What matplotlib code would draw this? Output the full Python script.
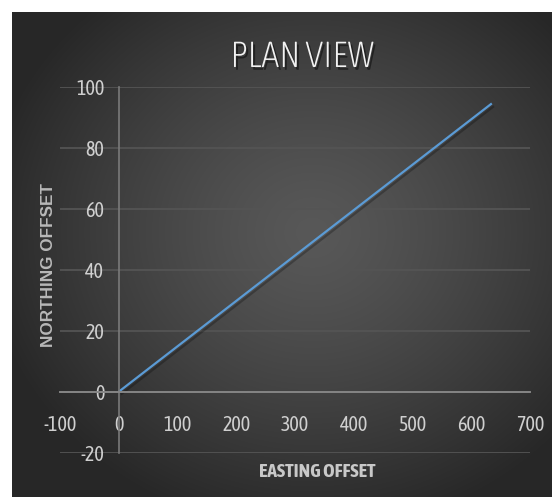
import numpy as np
import matplotlib.pyplot as plt
from matplotlib import patheffects as pe

plt.rcParams['axes.unicode_minus'] = False

# survey line, easting vs northing offset
easting = [0, 635]
northing = [0, 94.7]
x_ticks = [-100, 0, 100, 200, 300, 400, 500, 600, 700]
y_ticks = [-20, 0, 20, 40, 60, 80, 100]

narrow = ['Asap Condensed', 'Barlow Condensed', 'DejaVu Sans']

W, H = 552, 497
fig = plt.figure(figsize=(W / 100, H / 100), dpi=100)
fig.patch.set_facecolor('white')

# dark chart area with a soft radial glow
bg = fig.add_axes([12 / W, 0, 1 - 12 / W, 1 - 12 / H])
bg.set_axis_off()
yy, xx = np.mgrid[0:485, 0:540]
cx, cy = 300, 220
r = np.sqrt(((xx - cx) / 330) ** 2 + ((yy - cy) / 300) ** 2)
r = np.clip(r, 0, 1)
shade = 0.345 - 0.19 * r ** 1.3
img = np.dstack([shade, shade, shade])
bg.imshow(img, aspect='auto', extent=[0, 1, 0, 1], origin='upper')
bg.set_xlim(0, 1)
bg.set_ylim(0, 1)

ax = fig.add_axes([60 / W, 44.4 / H, 470 / W, 365.3 / H])
ax.patch.set_alpha(0)
ax.set_xlim(-100, 700)
ax.set_ylim(-20, 100)
ax.set_xticks(x_ticks)
ax.set_yticks(y_ticks)

for s in ['top', 'right']:
    ax.spines[s].set_visible(False)
ax.spines['left'].set_position(('data', 0))
ax.spines['bottom'].set_position(('data', 0))
ax.spines['left'].set_color('#7a7a7a')
ax.spines['left'].set_linewidth(1.2)
ax.spines['bottom'].set_color('#858585')
ax.spines['bottom'].set_linewidth(1.4)

ax.yaxis.grid(True, color='#545454', linewidth=1.3)
ax.set_axisbelow(True)
ax.tick_params(length=0, colors='#cfcfcf')
ax.tick_params(axis='x', pad=16.5)
ax.tick_params(axis='y', pad=10.5)
for lab in ax.get_xticklabels() + ax.get_yticklabels():
    lab.set_family(narrow)
    lab.set_fontsize(14.5)

ax.plot(easting, northing, color='#5b9bd5', linewidth=1.6, solid_capstyle='butt',
        path_effects=[pe.SimpleLineShadow(offset=(1.5, -2), shadow_color='black', alpha=0.25),
                      pe.Normal()])

fig.text(302 / W, 1 - 57 / H, 'PLAN VIEW', ha='center', va='center', family=narrow,
         fontweight='light', fontsize=26, color='#f2f2f2',
         path_effects=[pe.withSimplePatchShadow(offset=(1.5, -2), shadow_rgbFace='black', alpha=0.45)])

ax.set_xlabel('EASTING OFFSET', family=narrow, fontweight='bold', fontsize=14, color='#c8c8c8')
ax.xaxis.set_label_coords(0.547, -0.053)
ax.xaxis.label.set_va('center')
ax.set_ylabel('NORTHING OFFSET', fontsize=12.3, fontweight='bold', color='#b8b8b8',
              family=['Liberation Sans', 'DejaVu Sans'])
ax.yaxis.set_label_coords(-0.025, 0.514)
ax.yaxis.label.set_va('center')

fig.savefig('out.png', dpi=100, facecolor='white')
